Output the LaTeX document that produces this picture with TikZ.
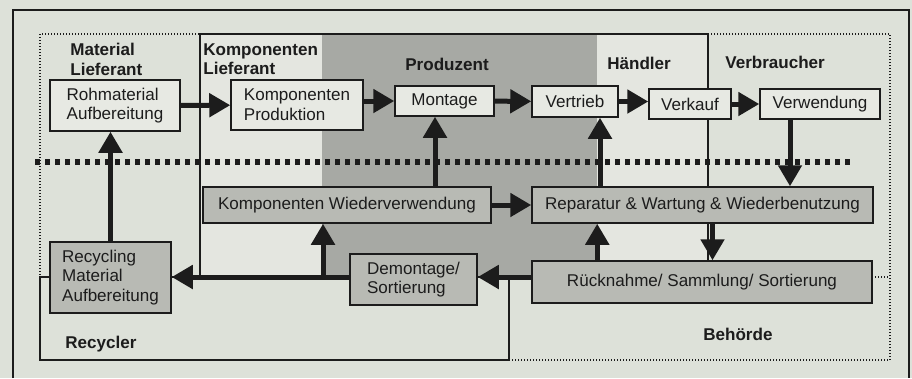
\documentclass[tikz,border=0pt]{standalone}
\usepackage{fontspec}
\setmainfont{Liberation Sans}
\usetikzlibrary{arrows.meta}
\definecolor{scanbg}{HTML}{DDE1D9}
\definecolor{lightarea}{HTML}{E4E6E0}
\definecolor{prodarea}{HTML}{A7A9A4}
\definecolor{greybox}{HTML}{B8BAB4}
\definecolor{whitebox}{HTML}{E7E9E3}
\definecolor{ink}{HTML}{1C1C1C}
\begin{document}
\begin{tikzpicture}[x=0.2mm,y=-0.2mm,
  every node/.style={font=\fontsize{9.7}{11.2}\selectfont,text=ink},
  stage/.style={draw=ink,line width=0.3mm,fill=whitebox,align=left,inner sep=0pt},
  rstage/.style={stage,fill=greybox},
  actor/.style={font=\fontsize{9.7}{11.2}\selectfont\bfseries,align=left,inner sep=0pt,anchor=north west},
  flow/.style={draw=ink,line width=1mm,-{Triangle[length=4.2mm,width=4.6mm]}},
  zone/.style={draw=ink,line width=0.3mm},
  openzone/.style={draw=ink,line width=0.25mm,dash pattern=on 0.25mm off 0.35mm}]
\fill[scanbg] (0,0) rectangle (912,378);
\useasboundingbox (0,0) rectangle (912,378);
\draw[ink,line width=0.3mm] (13,378) -- (13,10) -- (909,10) -- (909,378);
% areas of the chain
\draw[openzone] (40,34) rectangle (890,360);
\fill[lightarea] (200,34) rectangle (708,277);
\fill[prodarea] (322,34) rectangle (597,277);
\draw[zone] (200,277) -- (200,34) -- (708,34) -- (708,277);
\draw[zone] (40,277) rectangle (509,360);
\draw[openzone] (509,277) -- (890,277);
\draw[ink,line width=1.1mm,dash pattern=on 1mm off 1mm] (35,162) -- (855,162);
% actors
\node[actor] (matlab) at (70,43) {Material\\Lieferant};
\node[actor] (komplab) at (203,43) {Komponenten\\Lieferant};
\node[actor] (prodlab) at (405,58) {Produzent};
\node[actor] (handlab) at (607,57) {Händler};
\node[actor] (verblab) at (725,56) {Verbraucher};
\node[actor] (recylab) at (65,336) {Recycler};
\node[actor] (behlab) at (703,328) {Behörde};
% forward chain
\node[stage,minimum width=26mm,minimum height=10.2mm] (roh) at (115,105.5) {Rohmaterial\\Aufbereitung};
\node[stage,minimum width=26.4mm,minimum height=10mm] (kprod) at (297,105) {Komponenten\\Produktion};
\node[stage,minimum width=19.8mm,minimum height=6mm] (montage) at (444.5,101) {Montage};
\node[stage,minimum width=17.2mm,minimum height=6.2mm] (vertrieb) at (575,101.5) {Vertrieb};
\node[stage,minimum width=16.4mm,minimum height=6mm] (verkauf) at (690,104) {Verkauf};
\node[stage,minimum width=24mm,minimum height=6mm] (verwendung) at (820,104) {Verwendung};
% return chain
\node[rstage,minimum width=57.6mm,minimum height=7.2mm] (kwv) at (347,205) {Komponenten Wiederverwendung};
\node[rstage,minimum width=68.2mm,minimum height=7.2mm] (rep) at (702.5,205) {Reparatur \& Wartung \& Wiederbenutzung};
\node[rstage,minimum width=68mm,minimum height=8.4mm] (ruck) at (702,282) {Rücknahme/ Sammlung/ Sortierung};
\node[rstage,minimum width=25.4mm,minimum height=10.2mm] (demo) at (413.5,279.5) {Demontage/\\Sortierung};
\node[rstage,minimum width=24.2mm,minimum height=14.2mm] (recyc) at (110.5,277.5) {Recycling\\Material\\Aufbereitung};
\coordinate (branch) at (323,277);
% flows
\draw[flow] (roh) -- (kprod);
\draw[flow] (kprod.east |- montage.west) -- (montage.west);
\draw[flow] (montage) -- (vertrieb);
\draw[flow] (vertrieb.east) -- (vertrieb.east -| verkauf.west);
\draw[flow] (verkauf) -- (verwendung);
\draw[flow] ([xshift=-6mm]verwendung.south) -- ([xshift=-6mm]verwendung.south |- rep.north);
\draw[flow] (recyc.north) -- (recyc.north |- roh.south);
\draw[flow] ([xshift=-1.9mm]montage.south |- kwv.north) -- ([xshift=-1.9mm]montage.south);
\draw[flow] ([xshift=5mm]vertrieb.south |- rep.north) -- ([xshift=5mm]vertrieb.south);
\draw[flow] (kwv) -- (rep);
\draw[flow] ([xshift=2mm]rep.south) -- ([xshift=2mm]rep.south |- ruck.north);
\draw[flow] ([xshift=13.2mm]ruck.north west) -- ([xshift=13.2mm]ruck.north west |- rep.south);
\draw[flow] ([yshift=1mm]ruck.west) -- ([yshift=1mm]ruck.west -| demo.east);
\draw[flow] ([yshift=0.5mm]demo.west) -- ([yshift=0.5mm]demo.west -| recyc.east);
\draw[flow] (branch) -- (branch |- kwv.south);
\end{tikzpicture}
\end{document}
